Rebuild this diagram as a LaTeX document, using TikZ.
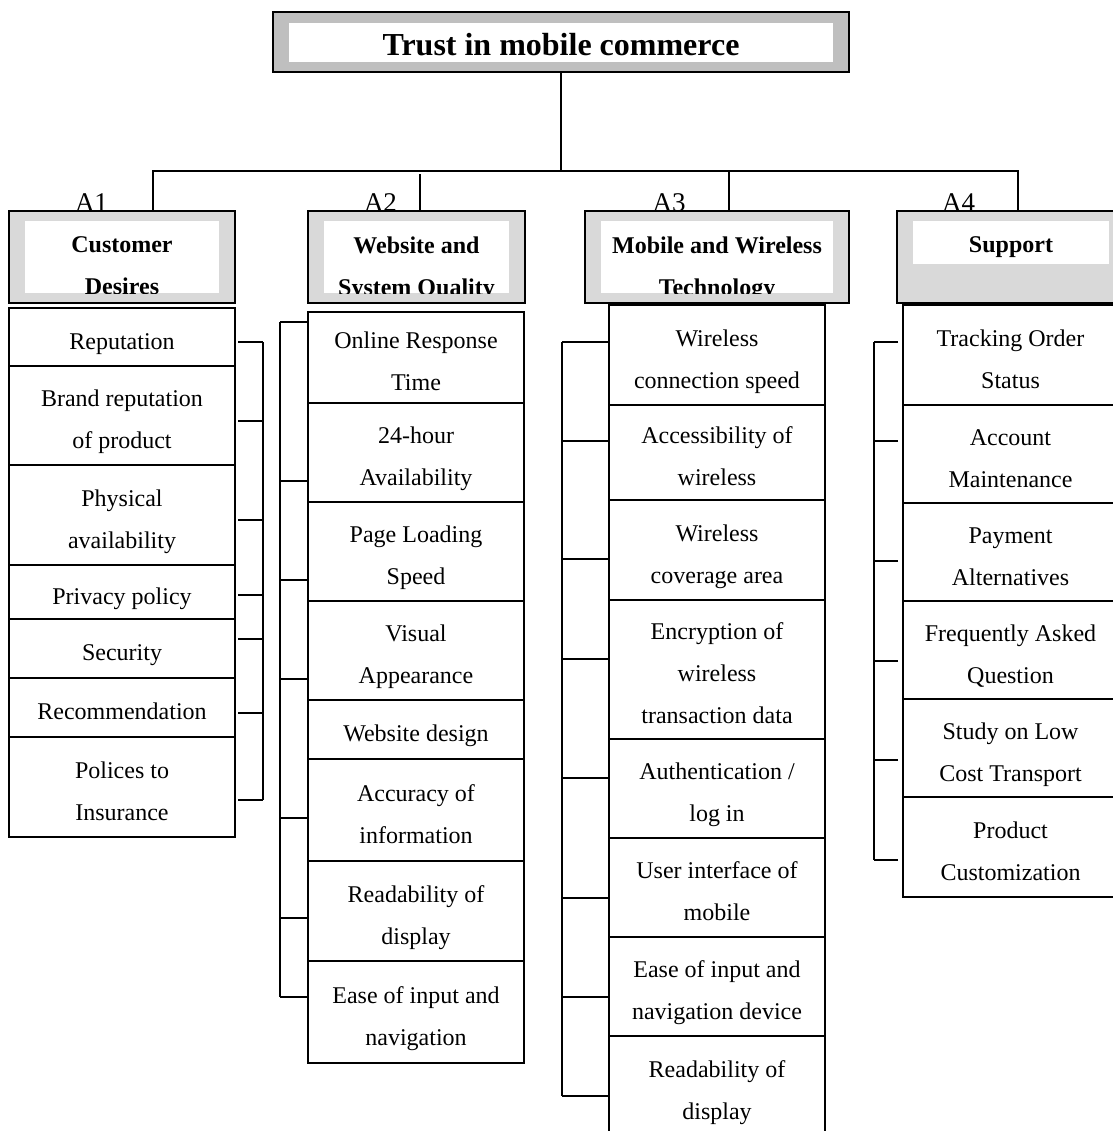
\documentclass[tikz,border=0pt]{standalone}
\usepackage{fontspec}
\setmainfont{Liberation Serif}
\usetikzlibrary{positioning,calc}

\newcommand\itemstrut{\rule{0pt}{12pt}}

\tikzset{
  item/.style={draw, line width=0.8pt, inner sep=0pt, outer sep=0pt,
    align=center, text depth=0pt, font=\fontsize{12}{21}\selectfont,
    execute at begin node=\itemstrut},
  head/.style={draw, line width=1pt, fill=black!15, inner sep=0pt,
    outer sep=0pt, minimum height=46pt},
  head text/.style={inner sep=0pt, align=center, text depth=0pt,
    anchor=north, font=\fontsize{12}{21}\selectfont\bfseries},
  group label/.style={inner sep=0pt, anchor=base,
    font=\fontsize{13.5}{16}\selectfont},
  link/.style={line width=0.8pt},
}

\begin{document}
\begin{tikzpicture}[x=0.5pt, y=-0.5pt,
    cust/.style={item, minimum width=113pt},
    web/.style={item, minimum width=108pt},
    mob/.style={item, minimum width=108pt},
    sup/.style={item, minimum width=107.5pt}]
    \useasboundingbox (0,0) rectangle (1113,1131);
    \clip (0,0) rectangle (1113,1131);

    % Root of the tree
    \node [draw, line width=1pt, fill=black!25, minimum width=288pt,
        minimum height=30pt, inner sep=0pt, outer sep=0pt] (title) at (561,42) {};
    \fill [white] ($(title.north west)+(16,11)$) rectangle ($(title.south east)+(-16,-10)$);
    \node [inner sep=0pt, text depth=0pt, font=\fontsize{16}{20}\selectfont\bfseries]
        (title text) at (title.center) {\rule{0pt}{13.5pt}Trust in mobile commerce};

    % The four group headers
    \node [head, minimum width=113pt]   (customer) at (122,257) {};
    \node [head, minimum width=108.5pt] (website)  at (416.5,257) {};
    \node [head, minimum width=132pt]   (mobile)   at (717,257) {};
    \node [head, minimum width=114pt]   (support)  at (1011,257) {};

    \fill [white] ($(customer.north west)+(16,10)$) rectangle ($(customer.south east)+(-16,-10)$);
    \fill [white] ($(website.north west)+(16,10)$) rectangle ($(website.south east)+(-16,-10)$);
    \fill [white] ($(mobile.north west)+(16,10)$) rectangle ($(mobile.south east)+(-16,-10)$);
    \fill [white] ($(support.north west)+(16,10)$) rectangle ($(support.south east)+(-16,-39)$);

    \begin{scope}
        \clip ($(customer.north west)+(16,10)$) rectangle ($(customer.south east)+(-16,-10)$);
        \node [head text] (customer text) at (customer.north |- 0,236) {Customer\\Desires};
    \end{scope}
    \begin{scope}
        \clip ($(website.north west)+(16,10)$) rectangle ($(website.south east)+(-16,-10)$);
        \node [head text] (website text) at (website.north |- 0,236) {Website and\\System Quality};
    \end{scope}
    \begin{scope}
        \clip ($(mobile.north west)+(16,10)$) rectangle ($(mobile.south east)+(-16,-10)$);
        \node [head text] (mobile text) at (mobile.north |- 0,236) {Mobile and Wireless\\Technology};
    \end{scope}
    \node [head text] (support text) at (support.north |- 0,236) {Support};

    % And label them
    \node [group label] (A1) at (91.5,211)  {A1};
    \node [group label] (A2) at (380.5,211) {A2};
    \node [group label] (A3) at (669,211)   {A3};
    \node [group label] (A4) at (958.5,211) {A4};

    % Connect root and headers
    \coordinate (bus) at (title.south |- 0,171);
    \draw [link] (title.south) -- (bus);
    \draw [link] (customer.north -| 153,0) |- (bus) -| (support.north -| 1018,0);
    \draw [link] (mobile.north -| 729,0) -- (bus -| 729,0);
    \draw [link] (website.north -| 420,0) -- ($(bus -| 420,0)+(0,3)$);

    % A1 items
    \node [cust, minimum height=29pt, anchor=north] (cust1) at (122,308) {Reputation};
    \node [cust, minimum height=49.5pt, below=0pt of cust1] (cust2) {\itemstrut Brand reputation\\of product};
    \node [cust, minimum height=50pt, below=0pt of cust2] (cust3) {\itemstrut Physical\\availability};
    \node [cust, minimum height=27pt, below=0pt of cust3] (cust4) {Privacy policy};
    \node [cust, minimum height=29.5pt, below=0pt of cust4] (cust5) {Security};
    \node [cust, minimum height=29.5pt, below=0pt of cust5] (cust6) {Recommendation};
    \node [cust, minimum height=50pt, below=0pt of cust6] (cust7) {\itemstrut Polices to\\Insurance};

    % A2 items
    \node [web, minimum height=45.5pt, anchor=north] (web1) at (416,312) {\itemstrut Online Response\\Time};
    \node [web, minimum height=49.5pt, below=0pt of web1] (web2) {\itemstrut 24-hour\\Availability};
    \node [web, minimum height=49.5pt, below=0pt of web2] (web3) {\itemstrut Page Loading\\Speed};
    \node [web, minimum height=49.5pt, below=0pt of web3] (web4) {\itemstrut Visual\\Appearance};
    \node [web, minimum height=29.5pt, below=0pt of web4] (web5) {Website design};
    \node [web, minimum height=51pt, below=0pt of web5] (web6) {\itemstrut Accuracy of\\information};
    \node [web, minimum height=50pt, below=0pt of web6] (web7) {\itemstrut Readability of\\display};
    \node [web, minimum height=51pt, below=0pt of web7] (web8) {\itemstrut Ease of input and\\navigation};

    % A3 items
    \node [mob, minimum height=50pt, anchor=north] (mob1) at (717,305) {\itemstrut Wireless\\connection speed};
    \node [mob, minimum height=47.5pt, below=0pt of mob1] (mob2) {\itemstrut Accessibility of\\wireless};
    \node [mob, minimum height=50pt, below=0pt of mob2] (mob3) {\itemstrut Wireless\\coverage area};
    \node [mob, minimum height=69.5pt, below=0pt of mob3] (mob4) {\itemstrut Encryption of\\wireless\\transaction data};
    \node [mob, minimum height=49.5pt, below=0pt of mob4] (mob5) {\itemstrut Authentication /\\log in};
    \node [mob, minimum height=49.5pt, below=0pt of mob5] (mob6) {\itemstrut User interface of\\mobile};
    \node [mob, minimum height=49.5pt, below=0pt of mob6] (mob7) {\itemstrut Ease of input and\\navigation device};
    \node [mob, minimum height=50pt, below=0pt of mob7] (mob8) {\itemstrut Readability of\\display};

    % A4 items
    \node [sup, minimum height=50pt, anchor=north] (sup1) at (1010.5,305) {\itemstrut Tracking Order\\Status};
    \node [sup, minimum height=49pt, below=0pt of sup1] (sup2) {\itemstrut Account\\Maintenance};
    \node [sup, minimum height=49pt, below=0pt of sup2] (sup3) {\itemstrut Payment\\Alternatives};
    \node [sup, minimum height=49pt, below=0pt of sup3] (sup4) {\itemstrut Frequently Asked\\Question};
    \node [sup, minimum height=49pt, below=0pt of sup4] (sup5) {\itemstrut Study on Low\\Cost Transport};
    \node [sup, minimum height=50pt, below=0pt of sup5] (sup6) {\itemstrut Product\\Customization};

    % Brackets beside the item lists
    \draw [link] (263,342) -- (263,800);
    \foreach \n/\y in {cust1/342, cust2/421, cust3/520, cust4/595, cust5/639, cust6/713, cust7/800}
        \draw [link] ($(\n.east |- 0,\y)+(3,0)$) -- (263,\y);

    \draw [link] (280,322) -- (280,997);
    \foreach \n/\y in {web1/322, web2/481, web3/580, web4/679, web6/818, web7/918, web8/997}
        \draw [link] ($(\n.west |- 0,\y)+(-1,0)$) -- (280,\y);

    \draw [link] (562,342) -- (562,1096);
    \foreach \n/\y in {mob1/342, mob2/441, mob3/559, mob4/659, mob5/778, mob6/898, mob7/997, mob8/1096}
        \draw [link] ($(\n.west |- 0,\y)+(-1,0)$) -- (562,\y);

    \draw [link] (874,342) -- (874,860);
    \foreach \n/\y in {sup1/342, sup2/441, sup3/561, sup4/661, sup5/760, sup6/860}
        \draw [link] ($(\n.west |- 0,\y)+(-5,0)$) -- (874,\y);
\end{tikzpicture}
\end{document}
